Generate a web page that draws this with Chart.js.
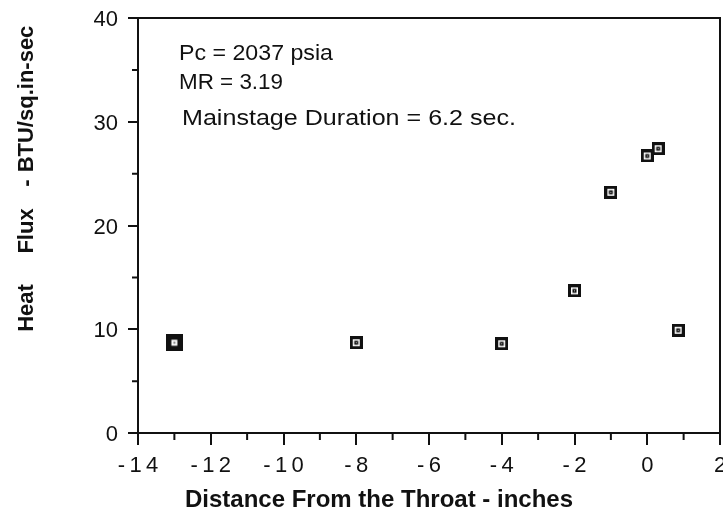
<!DOCTYPE html>
<html>
<head>
<meta charset="utf-8">
<title>Heat Flux vs Distance From the Throat</title>
<script src="https://cdn.jsdelivr.net/npm/chart.js@4.4.0/dist/chart.umd.min.js"></script>
<style>
  body { margin: 0; background: #fff; }
</style>
</head>
<body>
<canvas id="myChart" width="723" height="516"></canvas>

<script>
// data
const distance = [-13, -8, -4, -2, -1, 0, 0.3, 0.85];
const heatFlux = [8.7, 8.7, 8.6, 13.7, 23.2, 26.7, 27.4, 9.9];
const xTicks = [-14, -12, -10, -8, -6, -4, -2, 0, 2];
const yTicks = [0, 10, 20, 30, 40];
const notes = ["Pc = 2037 psia", "MR = 3.19", "Mainstage Duration = 6.2 sec."];

const FONT = "'Liberation Sans', Arial, Helvetica, sans-serif";
const INK = "#111";

// square markers with a small dot in the middle
function makeMarker(size, filled) {
    const c = document.createElement('canvas');
    c.width = size; c.height = size;
    const g = c.getContext('2d');
    g.fillStyle = INK;
    g.fillRect(0, 0, size, size);
    const m = size / 2;
    if (!filled) {
        g.fillStyle = '#fff';
        g.fillRect(3, 3, size - 6, size - 6);
        g.fillStyle = INK;
        g.fillRect(m - 2, m - 2, 4, 4);
        g.fillStyle = '#ccc';
        g.fillRect(m - 0.5, m - 0.5, 1, 1);
    } else {
        g.fillStyle = '#fff';
        g.fillRect(m - 3, m - 3, 6, 6);
        g.fillStyle = '#777';
        g.fillRect(m - 1, m - 1, 2, 2);
    }
    return c;
}
const normalMarker = makeMarker(13, false);
const bigMarker = makeMarker(17, true);

const points = distance.map((x, i) => ({ x: x, y: heatFlux[i] }));

// text squeezed/stretched to the width it has in the picture
function fitText(ctx, text, x, y, w) {
    const m = ctx.measureText(text).width;
    ctx.save();
    ctx.translate(x, y);
    ctx.scale(w / m, 1);
    ctx.fillText(text, 0, 0);
    ctx.restore();
}

function xLabel(v) {
    return (v < 0 ? '-\u2009' : '') + String(Math.abs(v)).split('').join('\u2009');
}

// frame, minor ticks, tick labels, notes and axis titles
// (labels drawn here so Chart.js does not shrink the plot for label overhang)
const extras = {
    id: 'extras',
    afterDraw(chart) {
        const ctx = chart.ctx;
        const a = chart.chartArea;
        const xs = chart.scales.x, ys = chart.scales.y;
        ctx.save();
        ctx.strokeStyle = INK;
        ctx.lineWidth = 2;
        ctx.strokeRect(a.left, a.top, a.right - a.left, a.bottom - a.top);

        // minor ticks
        ctx.beginPath();
        for (let v = -13; v <= 1; v += 2) {
            const px = xs.getPixelForValue(v);
            ctx.moveTo(px, a.bottom);
            ctx.lineTo(px, a.bottom + 7);
        }
        for (let v = 5; v <= 35; v += 10) {
            const py = ys.getPixelForValue(v);
            ctx.moveTo(a.left - 6, py);
            ctx.lineTo(a.left, py);
        }
        ctx.stroke();

        // tick labels
        ctx.fillStyle = INK;
        ctx.font = "22px " + FONT;
        ctx.textBaseline = 'middle';
        ctx.textAlign = 'center';
        xTicks.forEach(v => ctx.fillText(xLabel(v), xs.getPixelForValue(v), a.bottom + 33));
        ctx.textAlign = 'right';
        yTicks.forEach(v => ctx.fillText(String(v), a.left - 20, ys.getPixelForValue(v) + 2));

        // notes
        ctx.textBaseline = 'alphabetic';
        ctx.textAlign = 'left';
        fitText(ctx, notes[0], 179, 60, 154);
        fitText(ctx, notes[1], 179, 89, 104);
        fitText(ctx, notes[2], 182, 125, 334);

        // axis titles
        ctx.font = "bold 24px " + FONT;
        ctx.textAlign = 'center';
        ctx.textBaseline = 'middle';
        ctx.fillText("Distance From the Throat - inches", 379, 500);

        ctx.font = "bold 22px " + FONT;
        ctx.translate(27, 0);
        ctx.rotate(-Math.PI / 2);
        ctx.fillText("Heat", -308, 0);
        ctx.fillText("Flux", -231, 0);
        ctx.fillText("-", -183, 0);
        ctx.fillText("BTU/sq.in-sec", -99, 0);
        ctx.restore();
    }
};

const ctx = document.getElementById('myChart');
const myChart = new Chart(ctx, {
    type: 'scatter',
    data: {
        datasets: [{
            label: 'Heat Flux',
            data: points,
            pointStyle: c => c.dataIndex === 0 ? bigMarker : normalMarker,
            pointRadius: 7
        }]
    },
    options: {
        responsive: false,
        animation: false,
        layout: { autoPadding: false, padding: { top: 18, right: 3, left: 0, bottom: 0 } },
        plugins: {
            legend: { display: false },
            tooltip: { enabled: false }
        },
        scales: {
            x: {
                type: 'linear',
                min: -14,
                max: 2,
                afterBuildTicks: s => { s.ticks = xTicks.map(v => ({ value: v })); },
                afterFit: s => { s.height = 83; },
                border: { display: true, color: INK, width: 2 },
                grid: { drawOnChartArea: false, color: INK, lineWidth: 2, tickLength: 12 },
                ticks: { display: false }
            },
            y: {
                min: 0,
                max: 40,
                afterBuildTicks: s => { s.ticks = yTicks.map(v => ({ value: v })); },
                afterFit: s => { s.width = 138; },
                border: { display: true, color: INK, width: 2 },
                grid: { drawOnChartArea: false, color: INK, lineWidth: 2, tickLength: 10 },
                ticks: { display: false }
            }
        }
    },
    plugins: [extras]
});
</script>
</body>
</html>
